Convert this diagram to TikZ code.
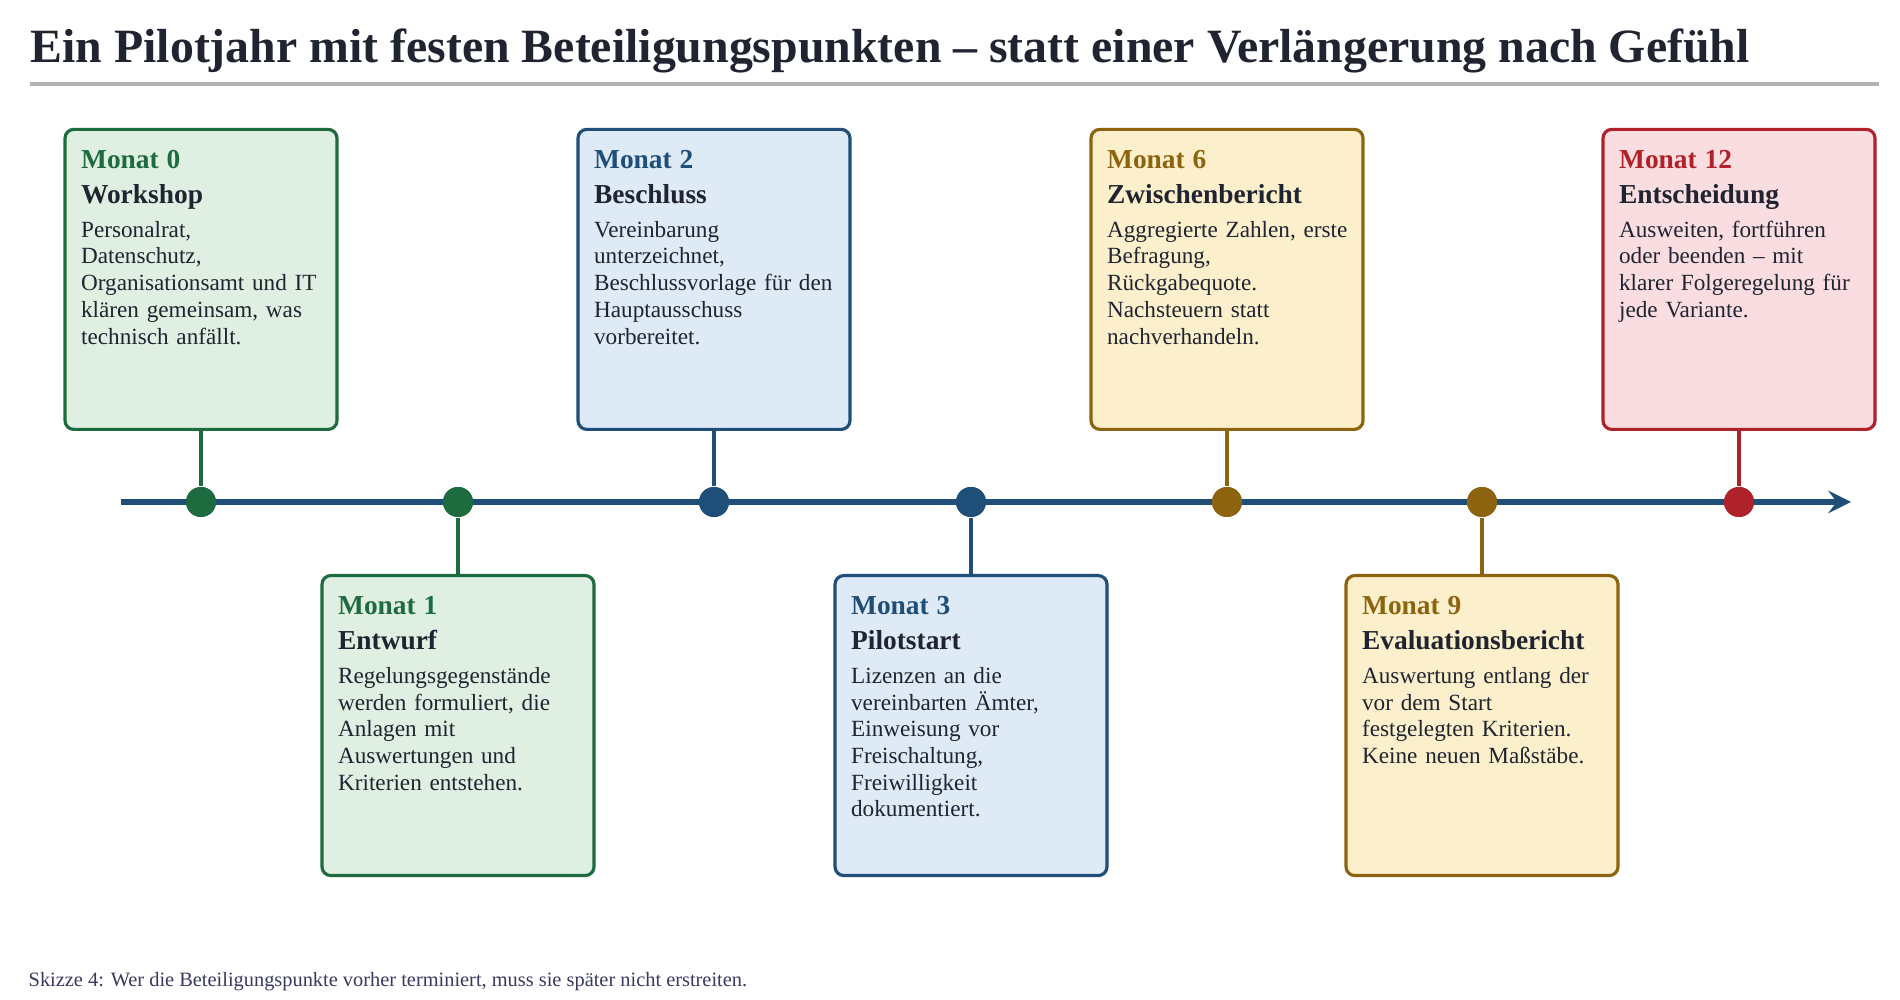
\documentclass[tikz,border=0pt]{standalone}
\usepackage{fontspec}
\setmainfont{Liberation Serif}
\usetikzlibrary{positioning}
\definecolor{ink}{HTML}{1F2430}
\definecolor{grn}{HTML}{1E6B3F}\definecolor{grnbg}{HTML}{DFF0E3}
\definecolor{blu}{HTML}{1F4E79}\definecolor{blubg}{HTML}{DEEAF6}
\definecolor{gld}{HTML}{8C6410}\definecolor{gldbg}{HTML}{FCF0CC}
\definecolor{red}{HTML}{B0222A}\definecolor{redbg}{HTML}{FADDE0}
\tikzset{
  box/.style={draw=#1, fill=#1bg, line width=0.9pt, rounded corners=2.5pt,
    minimum width=2.72cm, minimum height=3cm, inner sep=0pt},
  txt/.style={anchor=north west, align=left, text width=2.5cm, inner sep=0pt,
    font=\fontsize{6.6pt}{7.6pt}\selectfont, text=ink},
  dot/.style={circle, fill=#1, minimum size=0.3cm, inner sep=0pt},
  stem/.style={draw=#1, line width=1pt}
}
\newcommand{\head}[3]{{\fontsize{7.8pt}{9.4pt}\selectfont\bfseries\textcolor{#1}{#2}\\[0.5pt]\textcolor{ink}{#3}\par}\vspace{2pt}}
\begin{document}
\begin{tikzpicture}
\useasboundingbox (0,0) rectangle (19,10);
% title
\node[anchor=west, inner sep=0pt, text=ink, font=\fontsize{13.6pt}{16pt}\selectfont\bfseries] (title) at (0.30,9.49)
  {Ein Pilotjahr mit festen Beteiligungspunkten -- statt einer Verlängerung nach Gefühl};
\draw[draw=gray!60, line width=0.9pt] (0.30,9.16) coordinate (rl) -- (18.79,9.16) coordinate (rr);
% axis
\coordinate (ax0) at (1.21,4.98);
\coordinate (ax1) at (18.51,4.98);
\draw[blu, line width=1.8pt, -stealth] (ax0) -- (ax1);
% milestones
\node[dot=grn] (d0) at (2.01,4.98) {};
\node[dot=grn] (d1) at (4.58,4.98) {};
\node[dot=blu] (d2) at (7.14,4.98) {};
\node[dot=blu] (d3) at (9.71,4.98) {};
\node[dot=gld] (d6) at (12.27,4.98) {};
\node[dot=gld] (d9) at (14.82,4.98) {};
\node[dot=red] (d12) at (17.39,4.98) {};
\node[box=grn, anchor=south] (b0) at (2.01,5.69) {};
\node[box=grn, anchor=north] (b1) at (4.58,4.26) {};
\node[box=blu, anchor=south] (b2) at (7.14,5.69) {};
\node[box=blu, anchor=north] (b3) at (9.71,4.26) {};
\node[box=gld, anchor=south] (b6) at (12.27,5.69) {};
\node[box=gld, anchor=north] (b9) at (14.82,4.26) {};
\node[box=red, anchor=south] (b12) at (17.39,5.69) {};
\foreach \i/\c in {0/grn,1/grn,2/blu,3/blu,6/gld,9/gld,12/red}
  \draw[stem=\c] (b\i) -- (d\i);
\foreach \i/\c in {0/grn,1/grn,2/blu,3/blu,6/gld,9/gld,12/red}
  \node[dot=\c] at (d\i) {};
% texts
\node[txt, below right=0.22cm and 0.17cm of b0.north west] (t0)
  {\head{grn}{Monat 0}{Workshop}Personalrat,\\ Datenschutz,\\ Organisationsamt und IT\\ klären gemeinsam, was\\ technisch anfällt.};
\node[txt, below right=0.22cm and 0.17cm of b1.north west] (t1)
  {\head{grn}{Monat 1}{Entwurf}Regelungsgegenstände\\ werden formuliert, die\\ Anlagen mit\\ Auswertungen und\\ Kriterien entstehen.};
\node[txt, below right=0.22cm and 0.17cm of b2.north west] (t2)
  {\head{blu}{Monat 2}{Beschluss}Vereinbarung\\ unterzeichnet,\\ Beschlussvorlage für den\\ Hauptausschuss\\ vorbereitet.};
\node[txt, below right=0.22cm and 0.17cm of b3.north west] (t3)
  {\head{blu}{Monat 3}{Pilotstart}Lizenzen an die\\ vereinbarten Ämter,\\ Einweisung vor\\ Freischaltung,\\ Freiwilligkeit\\ dokumentiert.};
\node[txt, below right=0.22cm and 0.17cm of b6.north west] (t6)
  {\head{gld}{Monat 6}{Zwischenbericht}Aggregierte Zahlen, erste\\ Befragung,\\ Rückgabequote.\\ Nachsteuern statt\\ nachverhandeln.};
\node[txt, below right=0.22cm and 0.17cm of b9.north west] (t9)
  {\head{gld}{Monat 9}{Evaluationsbericht}Auswertung entlang der\\ vor dem Start\\ festgelegten Kriterien.\\ Keine neuen Maßstäbe.};
\node[txt, below right=0.22cm and 0.17cm of b12.north west] (t12)
  {\head{red}{Monat 12}{Entscheidung}Ausweiten, fortführen\\ oder beenden -- mit\\ klarer Folgeregelung für\\ jede Variante.};
% caption
\node[anchor=west, inner sep=0pt, text=gray!75!blue!60!black, font=\fontsize{5.8pt}{7pt}\selectfont] (cap) at (0.28,0.18)
  {Skizze 4: Wer die Beteiligungspunkte vorher terminiert, muss sie später nicht erstreiten.};
\end{tikzpicture}
\end{document}
